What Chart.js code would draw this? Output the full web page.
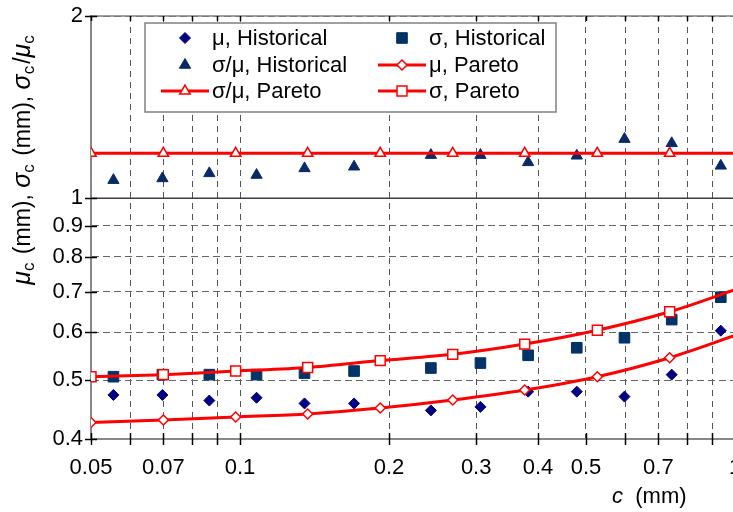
<!DOCTYPE html>
<html>
<head>
<meta charset="utf-8">
<script src="https://cdn.jsdelivr.net/npm/chart.js@4/dist/chart.umd.min.js"></script>
<style>
  html, body { margin: 0; padding: 0; overflow: hidden; background: #fff; }
  canvas { display: block; }
</style>
</head>
<body>
<canvas id="grafico" width="745" height="512"></canvas>
<script>
// historical bins
const xHist = [0.0555, 0.0697, 0.0867, 0.108, 0.135, 0.170, 0.243, 0.306, 0.382, 0.479, 0.598, 0.745, 0.936];
const muHist = [0.473, 0.473, 0.463, 0.468, 0.458, 0.458, 0.446, 0.452, 0.479, 0.479, 0.470, 0.511, 0.604];
const sigmaHist = [0.507, 0.511, 0.511, 0.511, 0.514, 0.518, 0.524, 0.534, 0.550, 0.566, 0.588, 0.630, 0.686];
const ratioHist = [1.071, 1.078, 1.099, 1.092, 1.120, 1.127, 1.178, 1.178, 1.146, 1.175, 1.252, 1.232, 1.131];

// Pareto model (last point only carries the line to the edge)
const xPareto = [0.05, 0.07, 0.098, 0.137, 0.192, 0.269, 0.376, 0.527, 0.738, 1.0];
const muPareto = [0.426, 0.430, 0.435, 0.440, 0.450, 0.464, 0.482, 0.507, 0.545, 0.593];
const sigmaPareto = [0.507, 0.511, 0.518, 0.525, 0.539, 0.552, 0.574, 0.605, 0.649, 0.706];
const ratioPareto = [1.186, 1.186, 1.186, 1.186, 1.186, 1.186, 1.186, 1.186, 1.186, 1.186];

const xTicks = [0.05, 0.06, 0.07, 0.08, 0.09, 0.1, 0.2, 0.3, 0.4, 0.5, 0.6, 0.7, 0.8, 0.9, 1];
const xTickLabels = ['0.05', '', '0.07', '', '', '0.1', '0.2', '0.3', '0.4', '0.5', '', '0.7', '', '', '1'];
const yTicks = [0.4, 0.5, 0.6, 0.7, 0.8, 0.9, 1, 2];
const yTickLabels = ['0.4', '0.5', '0.6', '0.7', '0.8', '0.9', '1', '2'];

const legendLabels = ['μ, Historical', 'σ, Historical', 'σ/μ, Historical', 'μ, Pareto', 'σ/μ, Pareto', 'σ, Pareto'];

const FONT = 'Arial, "Liberation Sans", sans-serif';
const RED = '#FF0000';

function pts(xs, ys) {
    return xs.map(function(x, i) { return { x: x, y: ys[i] }; });
}
const paretoRadius = function(r) {
    return xPareto.map(function(x, i) { return i === xPareto.length - 1 ? 0 : r; });
};

const datasets = [
    {
        label: legendLabels[0], data: pts(xHist, muHist), order: 2,
        pointStyle: 'rectRot', pointRadius: 5.5, pointBackgroundColor: '#000080',
        pointBorderColor: '#000080', pointBorderWidth: 1, showLine: false
    },
    {
        label: legendLabels[1], data: pts(xHist, sigmaHist), order: 2,
        pointStyle: 'rect', pointRadius: 7.5, pointBackgroundColor: '#003366',
        pointBorderColor: '#003366', pointBorderWidth: 1, showLine: false
    },
    {
        label: legendLabels[2], data: pts(xHist, ratioHist), order: 2,
        pointStyle: 'triangle', pointRadius: 6.5, pointBackgroundColor: '#0a2a66',
        pointBorderColor: '#0a2a66', pointBorderWidth: 1, showLine: false
    },
    {
        label: legendLabels[3], data: pts(xPareto, muPareto), order: 1,
        showLine: true, borderColor: RED, borderWidth: 3, tension: 0.3,
        pointStyle: 'rectRot', pointRadius: paretoRadius(5), pointBackgroundColor: '#fff',
        pointBorderColor: RED, pointBorderWidth: 1.5
    },
    {
        label: legendLabels[4], data: pts(xPareto, ratioPareto), order: 1,
        showLine: true, borderColor: RED, borderWidth: 3, tension: 0,
        pointStyle: 'triangle', pointRadius: paretoRadius(6), pointBackgroundColor: '#fff',
        pointBorderColor: RED, pointBorderWidth: 1.5
    },
    {
        label: legendLabels[5], data: pts(xPareto, sigmaPareto), order: 1,
        showLine: true, borderColor: RED, borderWidth: 3, tension: 0.3,
        pointStyle: 'rect', pointRadius: paretoRadius(7), pointBackgroundColor: '#fff',
        pointBorderColor: RED, pointBorderWidth: 1.5
    }
];

function line(ctx, x1, y1, x2, y2) {
    ctx.beginPath();
    ctx.moveTo(x1, y1);
    ctx.lineTo(x2, y2);
    ctx.stroke();
}

// pieces are [text, style]: n normal, i italic greek / variable, s subscript
function setPieceFont(ctx, st, big) {
    if (st === 'i') ctx.font = 'italic ' + (big ? 25 : 22) + 'px ' + FONT;
    else if (st === 's') ctx.font = (big ? 17 : 15) + 'px ' + FONT;
    else ctx.font = (big ? 23 : 22) + 'px ' + FONT;
}
function richText(ctx, pieces, x, y, big) {
    let cx = x;
    pieces.forEach(function(p) {
        setPieceFont(ctx, p[1], big);
        ctx.fillText(p[0], cx, p[1] === 's' ? y + 4 : y);
        cx += ctx.measureText(p[0]).width + (p[1] === 's' && big ? 2 : 0);
    });
    return cx - x;
}
function richWidth(ctx, pieces, big) {
    let w = 0;
    pieces.forEach(function(p) {
        setPieceFont(ctx, p[1], big);
        w += ctx.measureText(p[0]).width + (p[1] === 's' && big ? 2 : 0);
    });
    return w;
}

const yTitle = [['μ', 'i'], ['c', 's'], [' (mm), ', 'n'], ['σ', 'i'], ['c', 's'], [' (mm), ', 'n'],
                ['σ', 'i'], ['c', 's'], ['/', 'n'], ['μ', 'i'], ['c', 's']];
const xTitle = [['c', 'i'], ['  (mm)', 'n']];

const extras = {
    id: 'extras',
    beforeDatasetsDraw(chart) {
        const ctx = chart.ctx, a = chart.chartArea, x = chart.scales.x, y = chart.scales.y;
        ctx.save();
        ctx.strokeStyle = '#404040';
        ctx.lineWidth = 1.5;
        const y1 = y.getPixelForValue(1);
        line(ctx, a.left, y1, a.right, y1);
        ctx.strokeStyle = '#808080';
        line(ctx, a.left, a.top, a.right, a.top);
        ctx.strokeStyle = '#000';
        xTicks.forEach(function(v) {
            const px = Math.round(x.getPixelForValue(v)) + 0.5;
            line(ctx, px, a.bottom - 6, px, a.bottom + 6);
            line(ctx, px, a.top, px, a.top + 5);
        });
        yTicks.forEach(function(v) {
            const py = Math.round(y.getPixelForValue(v)) + 0.5;
            line(ctx, a.left - 6, py, a.left + 6, py);
        });
        ctx.restore();
    },
    afterDraw(chart) {
        const ctx = chart.ctx;
        ctx.save();
        // legend box
        ctx.fillStyle = '#fff';
        ctx.fillRect(145, 23, 411, 89);
        ctx.strokeStyle = '#808080';
        ctx.lineWidth = 1.5;
        ctx.strokeRect(145, 23, 411, 89);
        const colMark = [185, 402], colText = [212, 429], rowY = [38, 65, 91];
        chart.data.datasets.forEach(function(ds, i) {
            const col = i % 2, row = Math.floor(i / 2);
            const mx = colMark[col], my = rowY[row];
            if (ds.showLine) {
                ctx.strokeStyle = ds.borderColor;
                ctx.lineWidth = ds.borderWidth;
                line(ctx, mx - 24, my, mx + 24, my);
            }
            ctx.fillStyle = ds.pointBackgroundColor;
            ctx.strokeStyle = ds.pointBorderColor;
            ctx.lineWidth = ds.pointBorderWidth;
            const r = Array.isArray(ds.pointRadius) ? ds.pointRadius[0] : ds.pointRadius;
            Chart.helpers.drawPoint(ctx, { pointStyle: ds.pointStyle, radius: r, rotation: 0, borderWidth: ds.pointBorderWidth }, mx, my);
            ctx.fillStyle = '#000';
            ctx.font = '22px ' + FONT;
            ctx.textBaseline = 'middle';
            ctx.textAlign = 'left';
            ctx.fillText(ds.label, colText[col], my + 1);
        });
        // axis titles
        ctx.fillStyle = '#000';
        ctx.textBaseline = 'alphabetic';
        ctx.textAlign = 'left';
        richText(ctx, xTitle, 612, 503, false);
        const w = richWidth(ctx, yTitle, true);
        ctx.translate(30, 159 + w / 2);
        ctx.rotate(-Math.PI / 2);
        richText(ctx, yTitle, 0, 0, true);
        ctx.restore();
    }
};

const ctxGrafico = document.getElementById('grafico');
new Chart(ctxGrafico, {
    type: 'scatter',
    data: { datasets: datasets },
    plugins: [extras],
    options: {
        responsive: false,
        animation: false,
        devicePixelRatio: 1,
        layout: { padding: { left: 0, top: 16, right: 10, bottom: 0 } },
        plugins: { legend: { display: false }, tooltip: { enabled: false } },
        scales: {
            x: {
                type: 'logarithmic', min: 0.05, max: 1,
                afterBuildTicks: function(scale) { scale.ticks = xTicks.map(function(v) { return { value: v }; }); },
                afterFit: function(scale) {
                    scale.height = 73;
                    scale.paddingLeft = 0;
                    scale.paddingRight = 0;
                },
                ticks: {
                    autoSkip: false, maxRotation: 0, padding: 16, color: '#000',
                    font: { family: FONT, size: 22 },
                    callback: function(v, i) { return xTickLabels[i]; }
                },
                grid: { color: '#555', lineWidth: 1, drawTicks: false },
                border: { color: '#888', width: 2, dash: [6, 5] }
            },
            y: {
                type: 'logarithmic', min: 0.4, max: 2,
                afterBuildTicks: function(scale) { scale.ticks = yTicks.map(function(v) { return { value: v }; }); },
                afterFit: function(scale) {
                    scale.width = 91;
                    scale.paddingTop = 0;
                    scale.paddingBottom = 0;
                },
                ticks: {
                    autoSkip: false, padding: 8, color: '#000',
                    font: { family: FONT, size: 22 },
                    callback: function(v, i) { return yTickLabels[i]; }
                },
                grid: { color: '#666', lineWidth: 1, drawTicks: false },
                border: { color: '#888', width: 2, dash: [7, 4] }
            }
        }
    }
});
</script>
</body>
</html>
